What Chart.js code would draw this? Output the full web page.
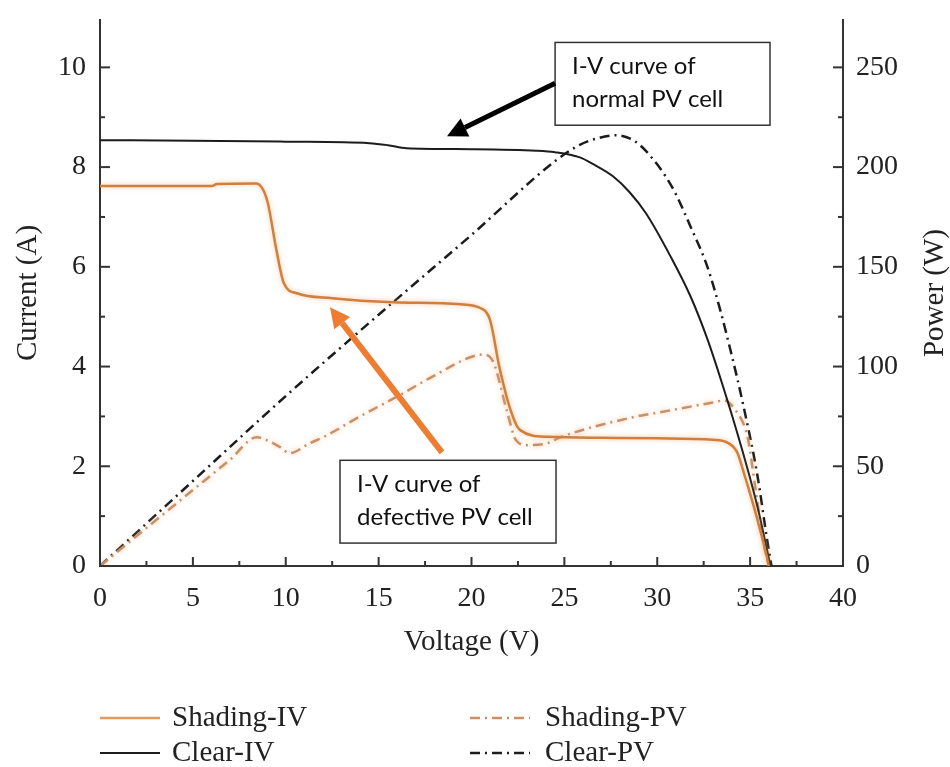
<!DOCTYPE html>
<html>
<head>
<meta charset="utf-8">
<title>I-V and P-V curves</title>
<script src="https://cdn.jsdelivr.net/npm/chart.js@4.4.0/dist/chart.umd.min.js"></script>
<style>
  html, body { margin: 0; padding: 0; background: #fff; }
  #wrap { width: 950px; height: 767px; }
</style>
</head>
<body>
<div id="wrap"><canvas id="chart" width="950" height="767"></canvas></div>
<script>
// Axis ticks
const voltageTicks = [0, 5, 10, 15, 20, 25, 30, 35, 40];
const currentTicks = [0, 2, 4, 6, 8, 10];
const powerTicks = [0, 50, 100, 150, 200, 250];

// Shading I-V (V, A)
const shadingIvV = [0, 6, 6.3, 8.4, 9.0, 9.5, 9.9, 10.6, 12.5, 15.8, 19.4, 20.5, 21.0, 21.5, 22.1, 22.6, 24.1, 27, 30, 33.0, 33.8, 34.3, 34.7, 35.1, 35.5, 35.9, 36.0];
const shadingIvI = [7.62, 7.62, 7.66, 7.67, 7.33, 6.33, 5.67, 5.47, 5.37, 5.29, 5.25, 5.17, 4.93, 3.99, 3.13, 2.73, 2.59, 2.57, 2.56, 2.53, 2.47, 2.28, 1.82, 1.32, 0.78, 0.18, 0];

// Clear I-V (V, A)
const clearIvV = [0, 5, 10, 14.5, 15.5, 16.5, 20, 23.5, 24.5, 25.8, 26.6, 27.6, 28.5, 29.4, 30.7, 31.8, 32.7, 33.5, 34.5, 35.4, 36.1];
const clearIvI = [8.54, 8.53, 8.51, 8.48, 8.44, 8.38, 8.36, 8.33, 8.30, 8.20, 8.05, 7.82, 7.50, 7.07, 6.22, 5.40, 4.55, 3.65, 2.42, 1.18, 0];

// Shading P-V (V, W)
const shadingPvV = [0, 4, 7, 8.45, 9.0, 9.7, 10.2, 11.3, 12, 14, 16.2, 18, 20.3, 20.7, 21.2, 21.9, 22.4, 23.0, 24.1, 24.8, 28.7, 30.1, 33.0, 33.6, 34.3, 34.7, 34.9, 35.3, 35.7, 36.0];
const shadingPvP = [0, 30.5, 53.3, 64.6, 63, 59.6, 56.6, 61.6, 64.5, 75, 86, 95.5, 105.7, 106, 101.7, 78, 63, 60.6, 61.6, 64.6, 74.6, 77, 82, 83, 77, 70, 63, 38, 13, 0];

// Clear P-V (V, W)
const clearPvV = [0, 5, 10, 15, 20, 24.5, 25.8, 26.8, 27.8, 28.7, 29.4, 30.8, 31.8, 32.7, 33.4, 34.0, 34.6, 35.4, 35.9, 36.15];
const clearPvP = [0, 42.6, 85.2, 126, 166, 203, 211, 214.5, 216, 213.5, 208, 190, 170, 150, 128, 106, 82, 45, 14, 0];

const toPoints = (xs, ys) => xs.map((x, i) => ({ x: x, y: ys[i] }));

const ORANGE = '#CF7F3E';
const TAN = '#C9916A';
const BLACK = '#1c1c1c';
const AXIS = '#333333';
const SERIF = '"Liberation Serif", "DejaVu Serif", serif';

// Inward tick marks (major and minor)
const tickMarks = {
    id: 'tickMarks',
    afterDraw(chart) {
        const { ctx, chartArea, scales } = chart;
        ctx.save();
        ctx.strokeStyle = AXIS;
        ctx.lineWidth = 2;
        const line = (x1, y1, x2, y2) => {
            ctx.beginPath(); ctx.moveTo(x1, y1); ctx.lineTo(x2, y2); ctx.stroke();
        };
        const mids = arr => arr.slice(1).map((v, i) => (v + arr[i]) / 2);

        voltageTicks.forEach(v => {
            const x = scales.x.getPixelForValue(v);
            line(x, chartArea.bottom, x, chartArea.bottom - 9);
        });
        mids(voltageTicks).forEach(v => {
            const x = scales.x.getPixelForValue(v);
            line(x, chartArea.bottom, x, chartArea.bottom - 5);
        });
        currentTicks.forEach(v => {
            const y = scales.y.getPixelForValue(v);
            line(chartArea.left, y, chartArea.left + 10, y);
        });
        mids(currentTicks).forEach(v => {
            const y = scales.y.getPixelForValue(v);
            line(chartArea.left, y, chartArea.left + 5, y);
        });
        powerTicks.forEach(v => {
            const y = scales.y2.getPixelForValue(v);
            line(chartArea.right, y, chartArea.right - 10, y);
        });
        mids(powerTicks).forEach(v => {
            const y = scales.y2.getPixelForValue(v);
            line(chartArea.right, y, chartArea.right - 5, y);
        });
        ctx.restore();
    }
};

// Right axis title reads bottom-to-top like the left one
const rightTitle = {
    id: 'rightTitle',
    afterDraw(chart) {
        const { ctx, chartArea } = chart;
        ctx.save();
        ctx.translate(935, (chartArea.top + chartArea.bottom) / 2);
        ctx.rotate(-Math.PI / 2);
        ctx.font = '29px ' + SERIF;
        ctx.fillStyle = '#222';
        ctx.textAlign = 'center';
        ctx.textBaseline = 'middle';
        ctx.fillText('Power (W)', 0, 0);
        ctx.restore();
    }
};

// Soft glow on the orange curves
const glow = {
    id: 'glow',
    beforeDatasetDraw(chart, args) {
        const ds = chart.data.datasets[args.index];
        if (ds.glow) {
            chart.ctx.save();
            chart.ctx.shadowColor = 'rgba(240, 170, 110, 0.7)';
            chart.ctx.shadowBlur = 5;
        }
    },
    afterDatasetDraw(chart, args) {
        if (chart.data.datasets[args.index].glow) chart.ctx.restore();
    }
};

// Two-column legend under the x axis
const gridLegend = {
    id: 'gridLegend',
    afterDraw(chart) {
        const { ctx } = chart;
        ctx.save();
        ctx.font = '29px ' + SERIF;
        ctx.fillStyle = '#222';
        ctx.textBaseline = 'middle';
        chart.data.datasets.forEach((ds, i) => {
            const col = Math.floor(i / 2);
            const row = i % 2;
            const x0 = col === 0 ? 100 : 470;
            const y = 718 + row * 35;
            ctx.save();
            ctx.strokeStyle = ds.legendColor || ds.borderColor;
            ctx.lineWidth = ds.borderWidth;
            ctx.setLineDash(ds.borderDash || []);
            ctx.beginPath();
            ctx.moveTo(x0, y);
            ctx.lineTo(x0 + 60, y);
            ctx.stroke();
            ctx.restore();
            ctx.fillText(ds.label, x0 + (col === 0 ? 72 : 75), y);
        });
        ctx.restore();
    }
};

// Callout boxes and arrows, placed in data units
const callouts = [
    { box: [24.5, 10.5, 36.07, 8.84], lines: ['I-V curve of', 'normal PV cell'],
      arrow: [24.5, 9.68, 18.68, 8.62], color: '#000000', width: 5 },
    { box: [12.92, 2.12, 24.55, 0.46], lines: ['I-V curve of', 'defective PV cell'],
      arrow: [18.41, 2.28, 12.38, 5.19], color: '#ED7D31', width: 6 }
];

const calloutPlugin = {
    id: 'callouts',
    afterDraw(chart) {
        const { ctx, scales } = chart;
        const px = v => scales.x.getPixelForValue(v);
        const py = v => scales.y.getPixelForValue(v);
        ctx.save();
        callouts.forEach(c => {
            const [x1, y1, x2, y2] = c.box;
            const left = px(x1), top = py(y1), right = px(x2), bottom = py(y2);
            ctx.fillStyle = '#fff';
            ctx.fillRect(left, top, right - left, bottom - top);
            ctx.strokeStyle = '#333';
            ctx.lineWidth = 1.5;
            ctx.strokeRect(left, top, right - left, bottom - top);
            ctx.fillStyle = '#111';
            ctx.font = '24px Lato, "Open Sans", sans-serif';
            ctx.textBaseline = 'alphabetic';
            c.lines.forEach((t, k) => ctx.fillText(t, left + 17, top + 32 + k * 33));

            const [ax1, ay1, ax2, ay2] = c.arrow;
            const sx = px(ax1), sy = py(ay1), tx = px(ax2), ty = py(ay2);
            const ang = Math.atan2(ty - sy, tx - sx);
            const headLen = 20, headW = 10;
            const bx = tx - headLen * Math.cos(ang), by = ty - headLen * Math.sin(ang);
            ctx.strokeStyle = c.color;
            ctx.fillStyle = c.color;
            ctx.lineWidth = c.width;
            ctx.beginPath();
            ctx.moveTo(sx, sy);
            ctx.lineTo(bx, by);
            ctx.stroke();
            ctx.beginPath();
            ctx.moveTo(tx, ty);
            ctx.lineTo(bx + headW * Math.sin(ang), by - headW * Math.cos(ang));
            ctx.lineTo(bx - headW * Math.sin(ang), by + headW * Math.cos(ang));
            ctx.closePath();
            ctx.fill();
        });
        ctx.restore();
    }
};

const fixedTicks = list => scale => { scale.ticks = list.map(v => ({ value: v })); };
const fixWidth = w => s => { s.width = w; s.paddingTop = 0; s.paddingBottom = 0; };

const ctx = document.getElementById('chart');
new Chart(ctx, {
    type: 'line',
    data: {
        datasets: [
            { label: 'Shading-IV', data: toPoints(shadingIvV, shadingIvI), yAxisID: 'y',
              borderColor: ORANGE, legendColor: '#E39A5E', borderWidth: 2.5, glow: true },
            { label: 'Clear-IV', data: toPoints(clearIvV, clearIvI), yAxisID: 'y',
              borderColor: BLACK, borderWidth: 2 },
            { label: 'Shading-PV', data: toPoints(shadingPvV, shadingPvP), yAxisID: 'y2',
              borderColor: TAN, borderWidth: 2.5, borderDash: [10, 5, 2, 5], glow: true },
            { label: 'Clear-PV', data: toPoints(clearPvV, clearPvP), yAxisID: 'y2',
              borderColor: BLACK, borderWidth: 2.5, borderDash: [10, 5, 2, 5] }
        ]
    },
    options: {
        responsive: false,
        animation: false,
        devicePixelRatio: 1,
        layout: { padding: { top: 20, right: 0, bottom: 101, left: 0 } },
        elements: {
            point: { radius: 0 },
            line: { fill: false, cubicInterpolationMode: 'monotone' }
        },
        scales: {
            x: {
                type: 'linear', position: 'bottom', min: 0, max: 40,
                afterBuildTicks: fixedTicks(voltageTicks),
                afterFit: s => { s.height = 100; },
                grid: { display: false, drawTicks: false },
                border: { display: true, color: AXIS, width: 2 },
                ticks: { color: '#222', padding: 16, font: { family: SERIF, size: 28 } },
                title: { display: true, text: 'Voltage (V)', color: '#222',
                         padding: { top: 0, bottom: 6 }, font: { family: SERIF, size: 29 } }
            },
            y: {
                type: 'linear', position: 'left', min: 0, max: 10.95,
                afterBuildTicks: fixedTicks(currentTicks),
                afterFit: fixWidth(100),
                grid: { display: false, drawTicks: false },
                border: { display: true, color: AXIS, width: 2 },
                ticks: { color: '#222', padding: 14, font: { family: SERIF, size: 28 } },
                title: { display: true, text: 'Current (A)', color: '#222',
                         padding: { top: 11, bottom: 0 }, font: { family: SERIF, size: 29 } }
            },
            y2: {
                type: 'linear', position: 'right', min: 0, max: 273.75,
                afterBuildTicks: fixedTicks(powerTicks),
                afterFit: fixWidth(107),
                grid: { display: false, drawTicks: false },
                border: { display: true, color: AXIS, width: 2 },
                ticks: { color: '#222', padding: 13, font: { family: SERIF, size: 28 } }
            }
        },
        plugins: {
            legend: { display: false },
            tooltip: { enabled: false }
        }
    },
    plugins: [glow, tickMarks, rightTitle, gridLegend, calloutPlugin]
});
</script>
</body>
</html>
